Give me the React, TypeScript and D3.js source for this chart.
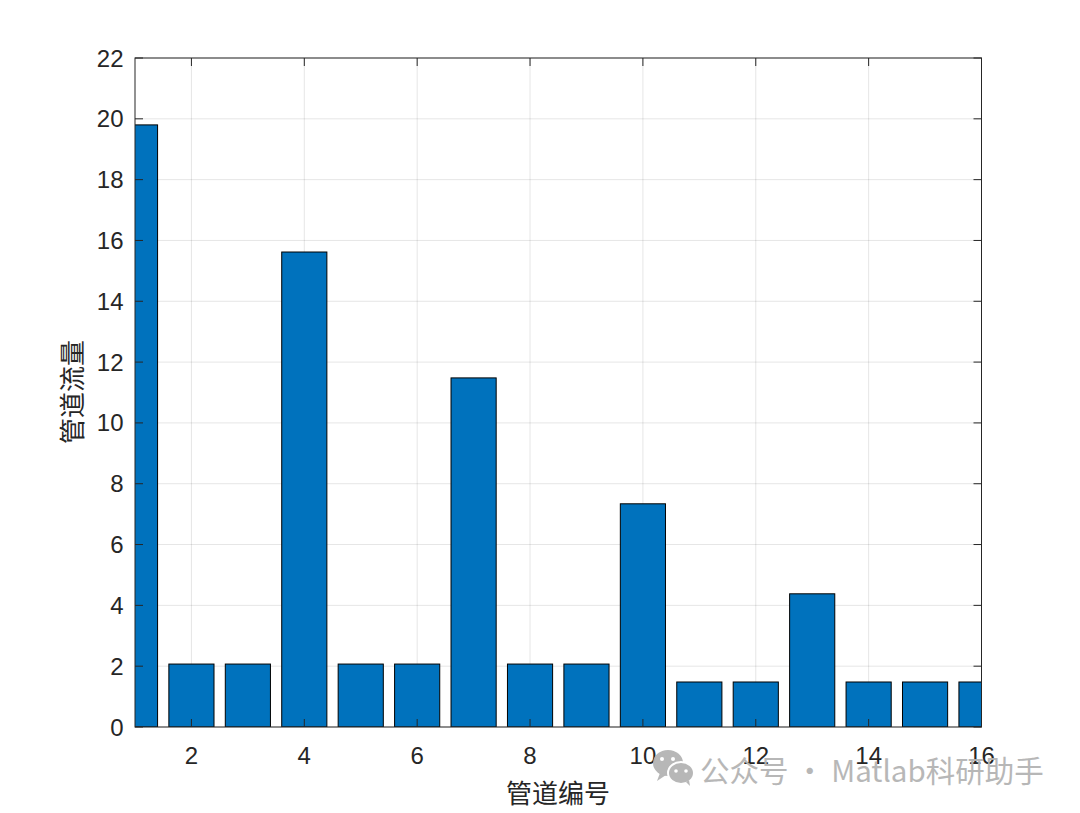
import React from "react";
import * as d3 from "d3";

const pipes = [1, 2, 3, 4, 5, 6, 7, 8, 9, 10, 11, 12, 13, 14, 15, 16];
const flows = [19.8, 2.07, 2.07, 15.62, 2.07, 2.07, 11.48, 2.07, 2.07, 7.34, 1.48, 1.48, 4.38, 1.48, 1.48, 1.48];
const xTicks = [2, 4, 6, 8, 10, 12, 14, 16];
const yTicks = [0, 2, 4, 6, 8, 10, 12, 14, 16, 18, 20, 22];
const xLabel = "管道编号";
const yLabel = "管道流量";
const watermark = "公众号 · Matlab科研助手";

export default function App() {
  const W = 1080, H = 813;
  const L = 135, R = 981.5, T = 58, B = 727;
  const x = d3.scaleLinear().domain([1, 16]).range([L, R]);
  const y = d3.scaleLinear().domain([0, 22]).range([B, T]);
  const bw = x(1.8) - x(1);
  const axisColor = "#262626";
  const font = "'Liberation Sans', Arial, Helvetica, sans-serif";
  const cjk = "'Noto Sans CJK SC', sans-serif";
  return (
    <svg width={W} height={H} style={{ position: "absolute", left: 0, top: 0, background: "#fff" }}>
      <defs>
        <clipPath id="plot">
          <rect x={L} y={T} width={R - L} height={B - T} />
        </clipPath>
      </defs>
      {/* grid */}
      {xTicks.map((t) => (
        <line key={"gx" + t} x1={x(t)} x2={x(t)} y1={T} y2={B} stroke="#000" strokeOpacity={0.1} strokeWidth={1} />
      ))}
      {yTicks.map((t) => (
        <line key={"gy" + t} x1={L} x2={R} y1={y(t)} y2={y(t)} stroke="#000" strokeOpacity={0.1} strokeWidth={1} />
      ))}
      {/* bars */}
      <g clipPath="url(#plot)">
        {pipes.map((p, i) => (
          <rect
            key={p}
            x={x(p) - bw / 2}
            y={y(flows[i])}
            width={bw}
            height={y(0) - y(flows[i])}
            fill="#0072BD"
            stroke="#000"
            strokeWidth={1}
          />
        ))}
      </g>
      {/* box */}
      <rect x={L} y={T} width={R - L} height={B - T} fill="none" stroke={axisColor} strokeWidth={1} />
      {/* ticks */}
      {xTicks.map((t) => (
        <g key={"tx" + t}>
          <line x1={x(t)} x2={x(t)} y1={B} y2={B - 8} stroke={axisColor} />
          <line x1={x(t)} x2={x(t)} y1={T} y2={T + 8} stroke={axisColor} />
          <text x={x(t)} y={764} textAnchor="middle" fontFamily={font} fontSize={24} fill={axisColor}>
            {t}
          </text>
        </g>
      ))}
      {yTicks.map((t) => (
        <g key={"ty" + t}>
          <line x1={L} x2={L + 8} y1={y(t)} y2={y(t)} stroke={axisColor} />
          <line x1={R} x2={R - 8} y1={y(t)} y2={y(t)} stroke={axisColor} />
          <text x={123.5} y={y(t) + 8.5} textAnchor="end" fontFamily={font} fontSize={24} fill={axisColor}>
            {t}
          </text>
        </g>
      ))}
      {/* axis labels */}
      <text x={558} y={803} textAnchor="middle" fontFamily={cjk} fontSize={26} fill={axisColor}>
        {xLabel}
      </text>
      <text
        transform={`translate(82, 392) rotate(-90)`}
        textAnchor="middle"
        fontFamily={cjk}
        fontSize={26}
        fill={axisColor}
      >
        {yLabel}
      </text>
      {/* watermark */}
      <g fill="#b4b4b4" opacity={0.95}>
        <ellipse cx={668} cy={763} rx={15} ry={13} />
        <path d="M660 773 L657 781 L666 775 Z" />
        <ellipse cx={681} cy={773} rx={13} ry={11} stroke="#fff" strokeWidth={2} />
        <path d="M686 782 L690 786 L689 780 Z" />
        <circle cx={662} cy={759} r={2} fill="#fff" />
        <circle cx={673} cy={759} r={2} fill="#fff" />
        <circle cx={676} cy={771} r={1.8} fill="#fff" />
        <circle cx={686} cy={771} r={1.8} fill="#fff" />
      </g>
      <text x={700} y={782} fontFamily={cjk} fontSize={29.5} fill="#b4b4b4" opacity={0.95}>
        {watermark}
      </text>
    </svg>
  );
}
